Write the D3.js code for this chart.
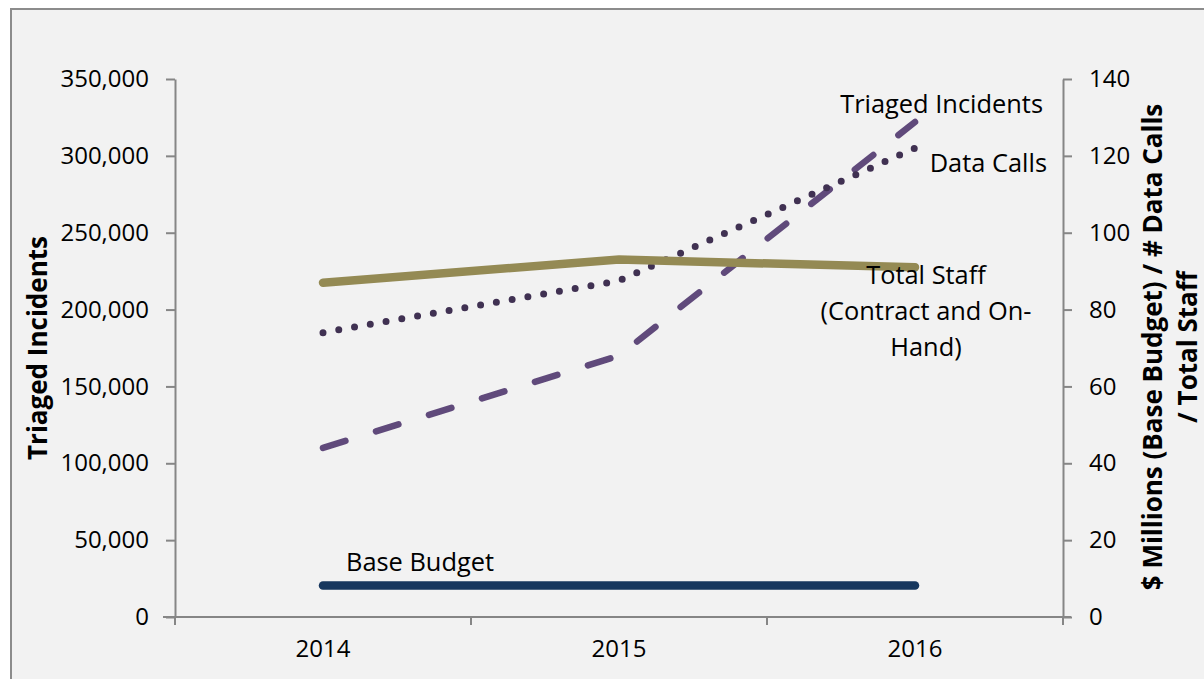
<!DOCTYPE html>
<html><head><meta charset="utf-8">
<script src="https://cdn.jsdelivr.net/npm/d3@7"></script>
<style>
html,body{margin:0;padding:0;background:#fff;}
svg{display:block;}
text{font-family:"Open Sans",sans-serif;fill:#000;}
</style></head>
<body>
<svg id="c" width="1204" height="679"></svg>
<script>
const years = ["2014","2015","2016"];
const triagedIncidents = [110000, 170000, 322000];   // left axis
const dataCalls = [74, 87.5, 122];                    // right axis
const totalStaff = [87, 93, 91];                      // right axis
const baseBudget = [8.2, 8.2, 8.2];                   // right axis
const leftTicks = [0,50000,100000,150000,200000,250000,300000,350000];
const rightTicks = [0,20,40,60,80,100,120,140];

const FS_TICK = 24, FS_LAB = 25.4, FS_TITLE = 26;
const svg = d3.select("#c");
svg.append("rect").attr("x",11).attr("y",9).attr("width",1300).attr("height",800)
  .attr("fill","#f2f2f2").attr("stroke","#8c8c8c").attr("stroke-width",2);

const x = d3.scaleBand().domain(years).range([175,1063]);
const cx = d => x(d) + x.bandwidth()/2;
const yL = d3.scaleLinear().domain([0,350000]).range([617,79]);
const yR = d3.scaleLinear().domain([0,140]).range([617,79]);
const axisColor = "#868686";

function styleAxis(g){
  g.selectAll("path,line").attr("stroke",axisColor).attr("stroke-width",2);
  g.selectAll("text").attr("font-size",FS_TICK).attr("fill","#000").style("font-family","'Open Sans'");
}
const gl = svg.append("g").attr("transform","translate(175,0)")
  .call(d3.axisLeft(yL).tickValues(leftTicks).tickSize(9).tickPadding(17).tickSizeOuter(0).tickFormat(d3.format(",")));
styleAxis(gl);
const gr = svg.append("g").attr("transform","translate(1063,0)")
  .call(d3.axisRight(yR).tickValues(rightTicks).tickSize(9).tickPadding(17).tickSizeOuter(0));
styleAxis(gr);
const gb = svg.append("g").attr("transform","translate(0,617)")
  .call(d3.axisBottom(x).tickSize(0).tickPadding(23).tickSizeOuter(0));
styleAxis(gb);
gb.select("path.domain").attr("d","M163,0H1071");
const edges = years.map(d=>x(d)).concat([x(years[years.length-1])+x.bandwidth()]);
gb.selectAll("line.edge").data(edges).enter().append("line").attr("class","edge")
  .attr("x1",d=>d).attr("x2",d=>d).attr("y1",0).attr("y2",8)
  .attr("stroke",axisColor).attr("stroke-width",2);

// axis titles
svg.append("text").attr("transform","translate(47,348) rotate(-90)")
  .attr("text-anchor","middle").attr("font-size",FS_TITLE).attr("font-weight","bold")
  .text("Triaged Incidents");
const rt = svg.append("text").attr("transform","translate(1162,347) rotate(-90)")
  .attr("text-anchor","middle").attr("font-size",FS_TITLE).attr("font-weight","bold");
rt.append("tspan").attr("x",0).attr("dy",0).text("$ Millions (Base Budget) / # Data Calls");
rt.append("tspan").attr("x",0).attr("dy",35).text("/ Total Staff");

// lines
const lineL = d3.line().x((d,i)=>cx(years[i])).y(d=>yL(d));
const lineR = d3.line().x((d,i)=>cx(years[i])).y(d=>yR(d));

svg.append("path").datum(triagedIncidents).attr("d",lineL)
  .attr("fill","none").attr("stroke","#604a7b").attr("stroke-width",6.5)
  .attr("stroke-linecap","round").attr("stroke-dasharray","23.5,32");
svg.append("path").datum(dataCalls).attr("d",lineR)
  .attr("fill","none").attr("stroke","#403152").attr("stroke-width",7)
  .attr("stroke-linecap","round").attr("stroke-dasharray","0,16");
svg.append("path").datum(totalStaff).attr("d",lineR)
  .attr("fill","none").attr("stroke","#948a54").attr("stroke-width",8.5)
  .attr("stroke-linecap","round");
svg.append("path").datum(baseBudget).attr("d",lineR)
  .attr("fill","none").attr("stroke","#17375e").attr("stroke-width",8.5)
  .attr("stroke-linecap","round");

// series labels
const lab = (t,xx,yy,anchor)=>svg.append("text").attr("x",xx).attr("y",yy)
  .attr("text-anchor",anchor||"start").attr("font-size",FS_LAB).text(t);
lab("Triaged Incidents",1043,113,"end");
lab("Data Calls",1047,172,"end");
lab("Total Staff",926,284,"middle");
lab("(Contract and On-",926,320,"middle");
lab("Hand)",926,356,"middle");
lab("Base Budget",346,571,"start");
</script>
</body></html>
